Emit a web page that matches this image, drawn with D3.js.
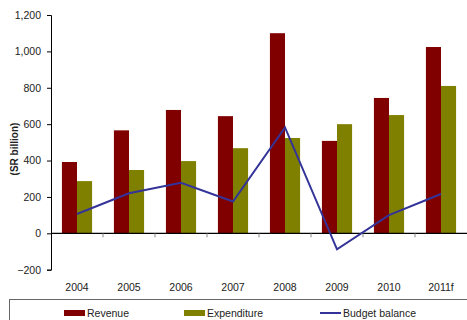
<!DOCTYPE html>
<html><head><meta charset="utf-8">
<script src="https://cdn.jsdelivr.net/npm/d3@7"></script>
<style>body{margin:0;background:#fff}svg{display:block;font-family:"Liberation Sans",Arial,sans-serif}</style>
</head><body><svg id="c" width="467" height="320"></svg>
<script>
const categories = ["2004","2005","2006","2007","2008","2009","2010","2011f"];
const revenue = [392, 566, 678, 644, 1100, 508, 744, 1024];
const expenditure = [287, 348, 397, 468, 524, 600, 650, 810];
const budgetBalance = [106, 220, 278, 175, 582, -88, 100, 216];
const yTicks = [-200, 0, 200, 400, 600, 800, 1000, 1200];
const seriesNames = ["Revenue", "Expenditure", "Budget balance"];
const colors = ["#800000", "#808000", "#333399"];

const svg = d3.select("#c");
const x0 = 51, x1 = 467;
const y = d3.scaleLinear().domain([-200, 1200]).range([269.7, 15]);
const x = d3.scaleBand().domain(categories).range([x0, x1]).paddingInner(0.42).paddingOuter(0.21);
const xc = d3.scaleBand().domain(categories).range([x0, x1]);
const xs = d3.scaleBand().domain(["r","e"]).range([0, x.bandwidth()]);

// bars
const g = svg.append("g");
g.selectAll("rect.rev").data(revenue).join("rect")
  .attr("x", (d,i) => x(categories[i]) + xs("r")).attr("width", xs.bandwidth())
  .attr("y", d => y(d)).attr("height", d => y(0) - y(d)).attr("fill", colors[0]);
g.selectAll("rect.exp").data(expenditure).join("rect")
  .attr("x", (d,i) => x(categories[i]) + xs("e")).attr("width", xs.bandwidth())
  .attr("y", d => y(d)).attr("height", d => y(0) - y(d)).attr("fill", colors[1]);

// y axis
const ya = svg.append("g").attr("transform", `translate(${x0},0)`)
  .call(d3.axisLeft(y).tickValues(yTicks).tickSize(4).tickPadding(6).tickFormat(d3.format(",")));
ya.select(".domain").attr("stroke", "#000").attr("stroke-width", 1);
ya.selectAll(".tick line").attr("stroke", "#000");
ya.selectAll("text").attr("font-size", 10.5).attr("fill", "#222").attr("font-family", "Liberation Sans, Arial, sans-serif");

// x axis at zero
const xa = svg.append("g").attr("transform", `translate(0,${y(0)})`);
xa.append("line").attr("x1", x0).attr("x2", x1).attr("stroke", "#000").attr("stroke-width", 1.2);
xa.selectAll("line.t").data(categories.slice(1)).join("line")
  .attr("x1", d => xc(d)).attr("x2", d => xc(d)).attr("y1", 0).attr("y2", 4).attr("stroke", "#888");

// x labels
svg.append("g").selectAll("text").data(categories).join("text")
  .attr("x", d => xc(d) + xc.bandwidth()/2).attr("y", 291)
  .attr("text-anchor", "middle").attr("font-size", 10.5).attr("fill", "#222").text(d => d);

// line
const line = d3.line().x((d,i) => x(categories[i]) + x.bandwidth()/2).y(d => y(d));
svg.append("path").datum(budgetBalance).attr("d", line)
  .attr("fill", "none").attr("stroke", colors[2]).attr("stroke-width", 2);

// y label
svg.append("text").attr("transform", "translate(18,149) rotate(-90)")
  .attr("text-anchor", "middle").attr("font-size", 10).attr("font-weight", "bold").attr("fill", "#222")
  .text("(SR billion)");

// legend
svg.append("rect").attr("x", 9.5).attr("y", 299.5).attr("width", 470).attr("height", 40)
  .attr("fill", "none").attr("stroke", "#666");
const lx = [64, 184, 320];
const lg = svg.append("g");
seriesNames.forEach((n, i) => {
  if (i < 2) lg.append("rect").attr("x", lx[i]).attr("y", 310).attr("width", 21).attr("height", 6).attr("fill", colors[i]);
  else lg.append("line").attr("x1", lx[i]).attr("x2", lx[i] + 21).attr("y1", 313).attr("y2", 313).attr("stroke", colors[i]).attr("stroke-width", 2);
  lg.append("text").attr("x", lx[i] + 23).attr("y", 317).attr("font-size", 10.5).attr("fill", "#222").text(n);
});
</script></body></html>
